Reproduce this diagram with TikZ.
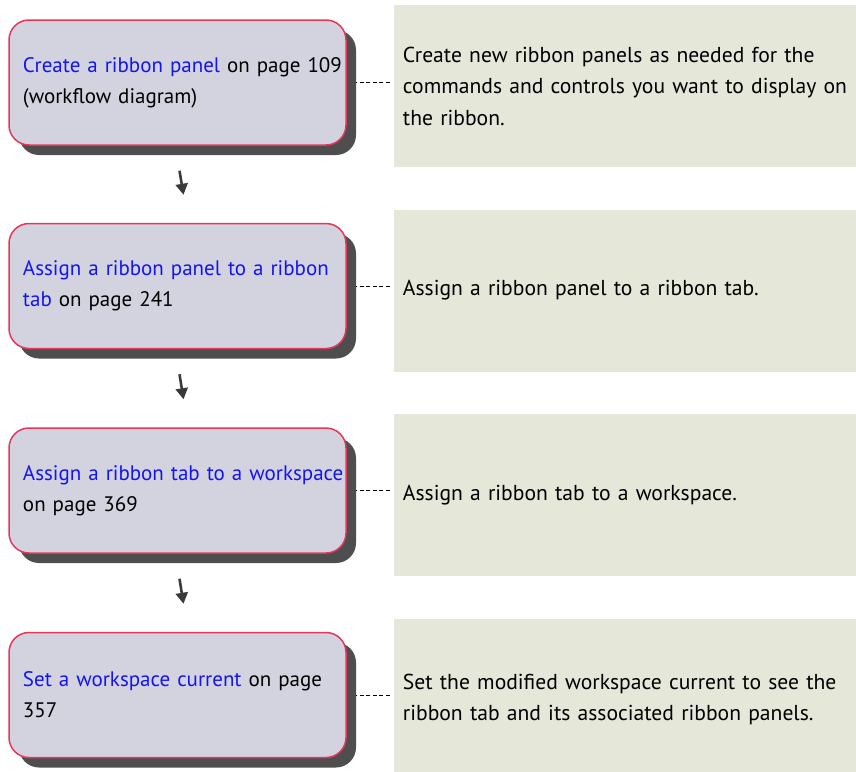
\documentclass[tikz,border=0pt]{standalone}
\usepackage{fontspec}
\setmainfont{PT Sans}
\usetikzlibrary{positioning,arrows.meta,shadows,backgrounds}
\usepackage{xcolor}
\definecolor{wflink}{HTML}{1414F0}
\definecolor{wfborder}{HTML}{E6365A}
\definecolor{wffill}{HTML}{D3D3DF}
\definecolor{wfshadow}{HTML}{4E4E4E}
\definecolor{wfnote}{HTML}{E5E7D9}
\definecolor{wfarrow}{HTML}{3A3A3A}
\newcommand{\wflink}[1]{\textcolor{wflink}{#1}}

\begin{document}
\begin{tikzpicture}[
          stepbox/.style={draw=wfborder,line width=1.5pt,rounded corners=20pt,fill=wffill,
                          minimum width=337pt,minimum height=125pt,text width=309pt,inner xsep=14pt,
                          align=left,font=\fontsize{21}{31}\selectfont,
                          drop shadow={shadow xshift=10pt,shadow yshift=-10pt,fill=wfshadow,opacity=1}},
          notebox/.style={fill=wfnote,minimum height=162pt,text width=452pt,
                          inner xsep=9pt,align=left,font=\fontsize{21.6}{31.5}\selectfont},
          flow/.style={wfarrow,line width=2.6pt,-{Triangle[width=12pt,length=11pt]}},
          tie/.style={black,line width=1pt,dash pattern=on 4pt off 2.5pt,shorten >=3pt}]
        \useasboundingbox (0pt,0pt) rectangle (856pt,-771pt);
        % workflow steps
        \node[stepbox] (s1) at (177.5pt,-82.5pt) {\mbox{\wflink{Create a ribbon panel} on page 109}\\(workflow diagram)};
        \node[stepbox,below=77pt of s1] (s2) {\mbox{\wflink{Assign a ribbon panel to a ribbon}}\\\wflink{tab} on page 241};
        \node[stepbox,below=78pt of s2] (s3) {\mbox{\wflink{Assign a ribbon tab to a workspace}}\\on page 369};
        \node[stepbox,below=78pt of s3] (s4) {\wflink{Set a workspace current} on page\\357};
        % notes
        \node[notebox,right=47pt of s1,yshift=-3.5pt] (n1) {Create new ribbon panels as needed for the\\commands and controls you want to display on\\the ribbon.};
        \node[notebox,right=47pt of s2,yshift=-4.5pt] (n2) {Assign a ribbon panel to a ribbon tab.};
        \node[notebox,right=47pt of s3,yshift=-4.5pt] (n3) {Assign a ribbon tab to a workspace.};
        \node[notebox,right=47pt of s4,yshift=-4.5pt] (n4) {Set the modified workspace current to see the\\ribbon tab and its associated ribbon panels.};
        \draw[flow] ([xshift=2pt,yshift=-25pt]s1.south) -- ([xshift=6pt,yshift=28pt]s2.north);
        \draw[flow] ([xshift=2pt,yshift=-25pt]s2.south) -- ([xshift=6pt,yshift=28pt]s3.north);
        \draw[flow] ([xshift=2pt,yshift=-25pt]s3.south) -- ([xshift=6pt,yshift=28pt]s4.north);
        \begin{pgfonlayer}{background}
          \draw[tie] (s1.east) -- (s1.east -| n1.west);
          \draw[tie] (s2.east) -- (s2.east -| n2.west);
          \draw[tie] (s3.east) -- (s3.east -| n3.west);
          \draw[tie] (s4.east) -- (s4.east -| n4.west);
        \end{pgfonlayer}
      \end{tikzpicture}
\end{document}
